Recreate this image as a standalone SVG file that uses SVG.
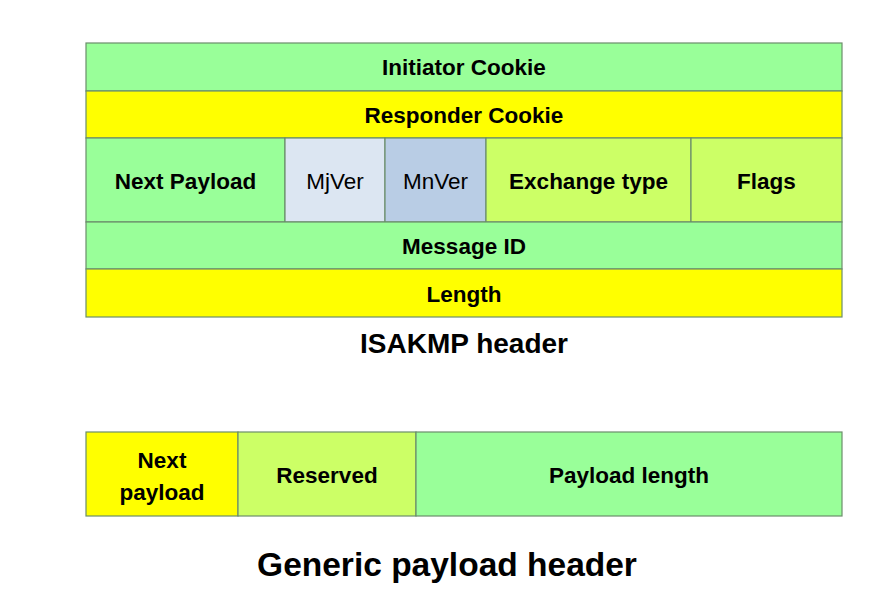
<svg xmlns="http://www.w3.org/2000/svg" width="872" height="599" viewBox="0 0 872 599">
<style>
.c{stroke:#6B8E6B;stroke-width:1.2}
.g{fill:#99FF99}.y{fill:#FFFF00}.l{fill:#CCFF66}.b1{fill:#DCE6F2}.b2{fill:#B9CDE5}
text{font-family:"Liberation Sans",Arial,sans-serif;font-size:22.5px;text-anchor:middle;fill:#000}
.bd{font-weight:bold}
</style>
<rect width="872" height="599" fill="#fff"/>
<g id="initiator"><rect class="c g" x="86" y="43" width="756" height="48"/><text class="bd" x="464" y="75">Initiator Cookie</text></g>
<g id="responder"><rect class="c y" x="86" y="91" width="756" height="47"/><text class="bd" x="464" y="123">Responder Cookie</text></g>
<g id="nextpayload"><rect class="c g" x="86" y="138" width="199" height="84"/><text class="bd" x="185.5" y="189">Next Payload</text></g>
<g id="mjver"><rect class="c b1" x="285" y="138" width="100" height="84"/><text x="335" y="189">MjVer</text></g>
<g id="mnver"><rect class="c b2" x="385" y="138" width="101" height="84"/><text x="435.5" y="189">MnVer</text></g>
<g id="exchange"><rect class="c l" x="486" y="138" width="205" height="84"/><text class="bd" x="588.5" y="189">Exchange type</text></g>
<g id="flags"><rect class="c l" x="691" y="138" width="151" height="84"/><text class="bd" x="766.5" y="189">Flags</text></g>
<g id="messageid"><rect class="c g" x="86" y="222" width="756" height="47"/><text class="bd" x="464" y="254">Message ID</text></g>
<g id="length"><rect class="c y" x="86" y="269" width="756" height="48"/><text class="bd" x="464" y="302">Length</text></g>
<text class="bd" x="464" y="353" style="font-size:28px">ISAKMP header</text>
<g id="gp-next"><rect class="c y" x="86" y="432" width="152" height="84"/><text class="bd" x="162" y="468">Next</text><text class="bd" x="162" y="500">payload</text></g>
<g id="gp-reserved"><rect class="c l" x="238" y="432" width="178" height="84"/><text class="bd" x="327" y="483">Reserved</text></g>
<g id="gp-length"><rect class="c g" x="416" y="432" width="426" height="84"/><text class="bd" x="629" y="483">Payload length</text></g>
<text class="bd" x="447" y="576" style="font-size:33.5px">Generic payload header</text>
<g id="connectors"/>
</svg>
